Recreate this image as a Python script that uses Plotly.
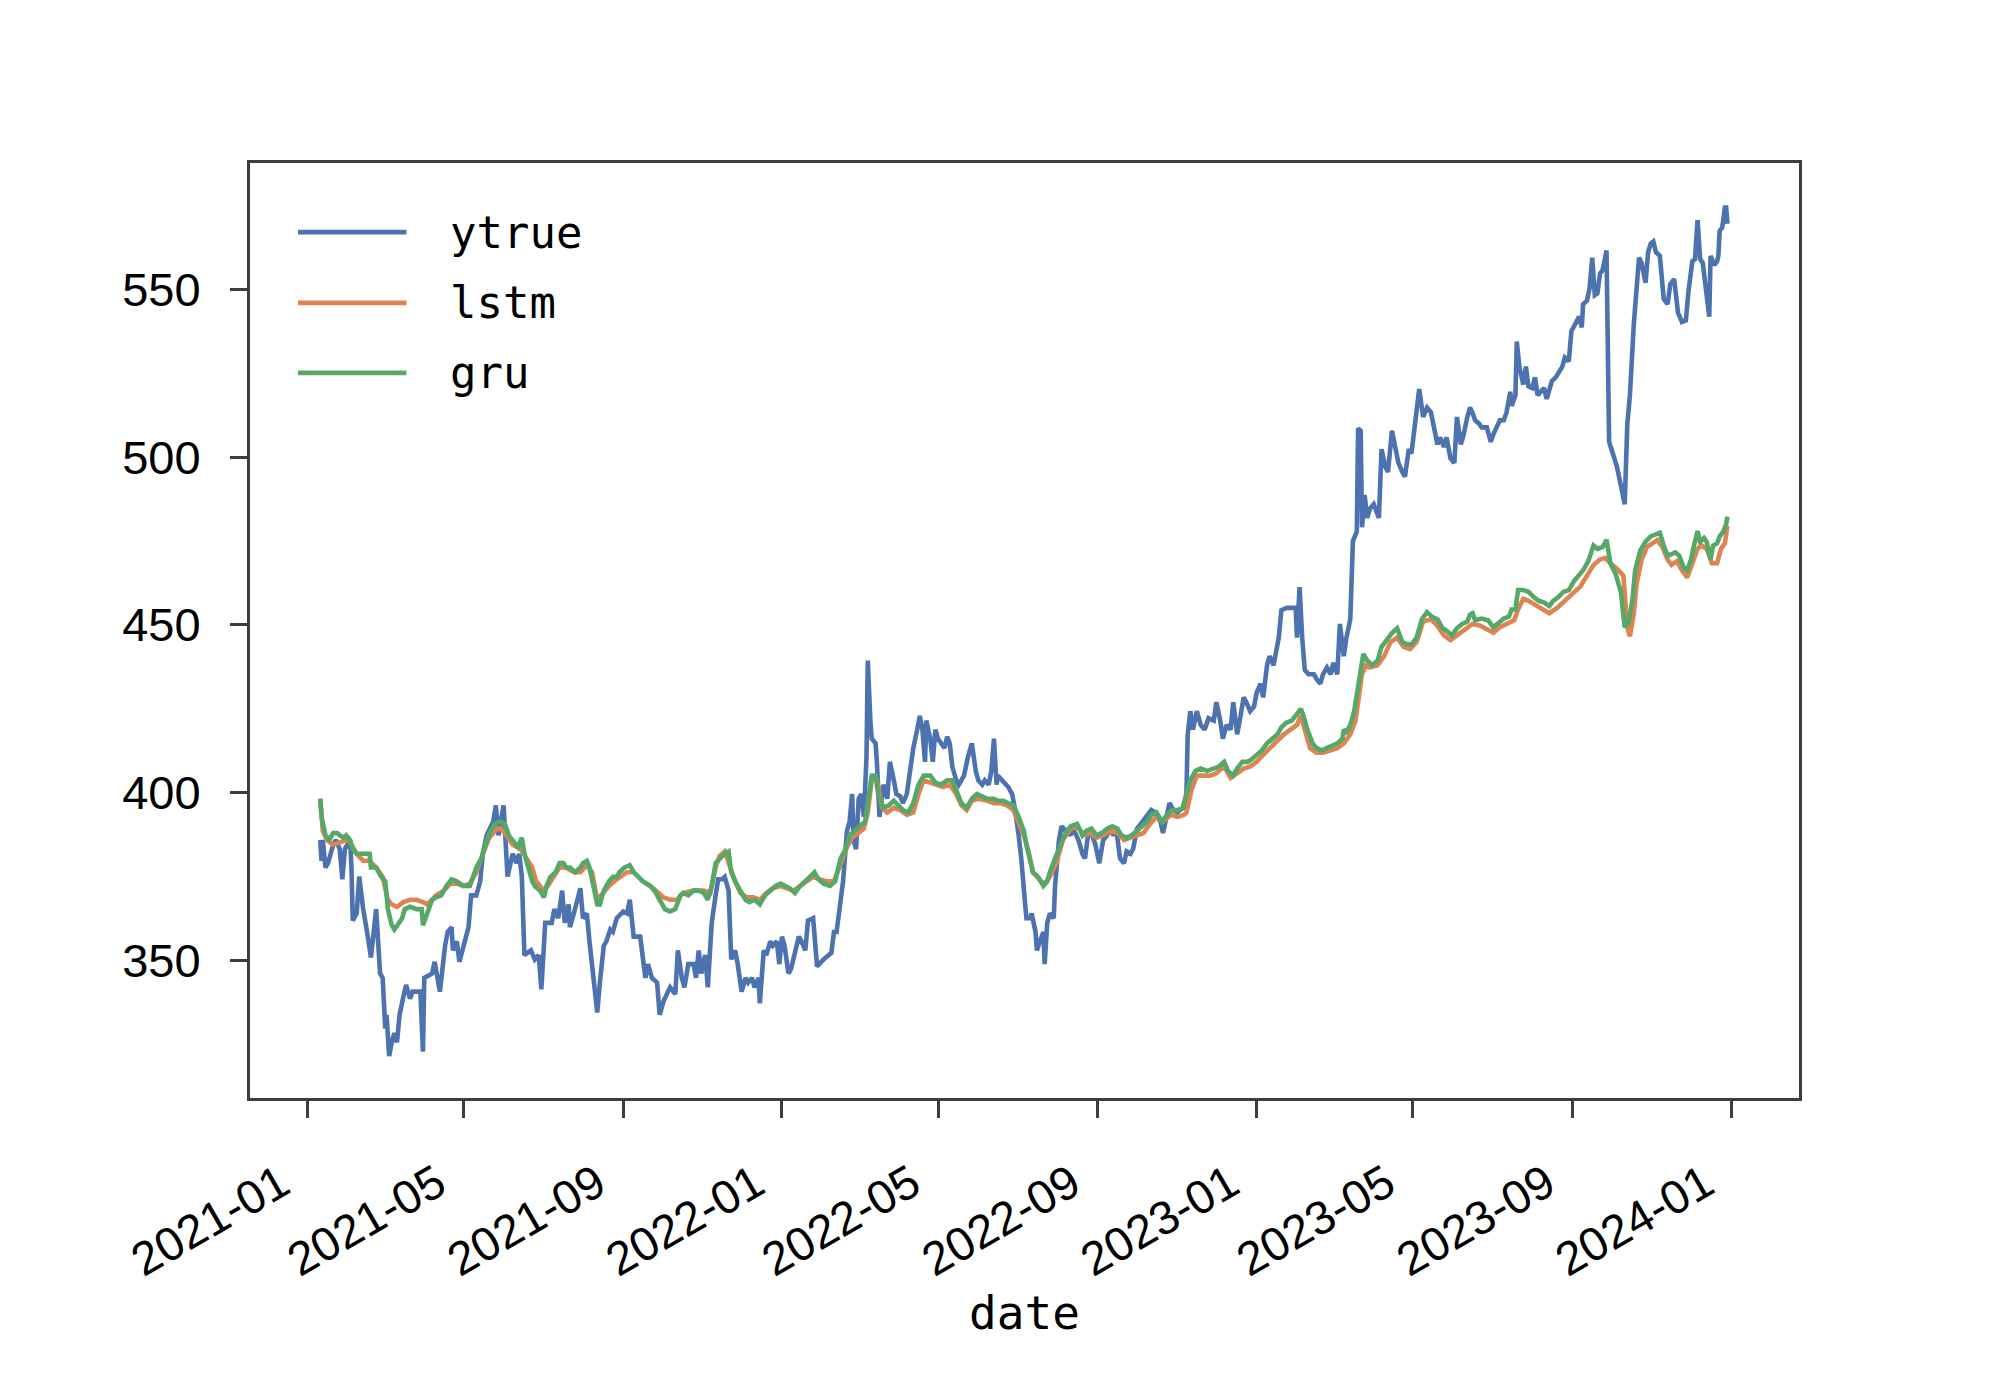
import pandas as pd
import plotly.graph_objects as go

# ---------------- data ----------------
BASE_DATE = "2021-01-01"          # day offsets below count from this date
series_names = ["ytrue", "lstm", "gru"]
series_colors = ["#4C72B0", "#DD8452", "#55A868"]
y_tick_values = [350, 400, 450, 500, 550]

ytrue_day = [10, 11, 12, 14, 16, 20, 22, 25, 27, 29, 33, 34, 35, 38, 40, 43, 46, 49, 53, 56, 58, 60, 61, 63, 65, 67, 69, 71, 74, 76, 79, 81, 87, 89, 90, 96, 98, 102, 106, 108, 111, 112, 115, 117, 124, 126, 130, 133, 135, 138, 143, 145, 147, 151, 154, 158, 161, 163, 165, 167, 172, 175, 178, 180, 183, 188, 190, 193, 196, 198, 201, 202, 205, 210, 212, 215, 217, 220, 223, 225, 228, 230, 233, 235, 238, 243, 246, 248, 251, 256, 258, 260, 262, 265, 269, 271, 274, 279,
             283, 285, 288, 290, 293, 297, 299, 301, 303, 306, 308, 311, 314, 316, 319, 321, 324, 326, 329, 331, 334, 337, 339, 342, 344, 347, 348, 351, 353, 356, 358, 361, 363, 365, 367, 370, 372, 375, 378, 380, 383, 385, 389, 392, 397, 403, 405, 407, 410, 412, 415, 417, 419, 420, 422, 424, 426, 428, 430, 431, 433, 434, 437, 438, 440, 443, 446, 448, 451, 453, 456, 458, 461, 464, 466, 469, 471, 473, 475, 476, 479, 481, 483, 485, 488, 490, 492, 494, 496, 499, 501, 505, 508, 511, 514, 516, 519, 521, 524, 526, 528, 530, 531, 534, 537, 539, 542, 544, 547, 549, 552, 553, 556, 557, 560, 561, 564, 566, 567, 569, 571, 574, 575, 578, 580, 584, 587,
             588, 590, 593, 596, 598, 601, 603, 606, 609, 612, 615, 617, 620, 622, 625, 628, 630, 633, 635, 638, 642, 646, 649, 652, 656, 658, 661, 663, 666, 669, 671, 674, 676, 677, 679, 681, 684, 687, 690, 693, 697, 699, 702, 704, 707, 710, 712, 715, 717, 720, 722, 725, 728, 730, 733, 735, 738, 740, 743, 747, 749, 753, 757, 760, 761, 763, 765, 767, 770, 774, 776, 779, 781, 784, 787, 789, 792, 794, 797, 799, 802, 803, 804, 807, 808, 810, 811, 813, 815, 817, 820, 824, 826, 829, 831, 834, 837, 839, 842, 844, 847, 849, 852, 855, 858, 861, 864, 866, 869, 871, 874, 876, 879, 882, 884, 887, 889, 892, 894,
             896, 898, 901, 903, 907, 910, 912, 915, 917, 920, 922, 925, 926, 929, 930, 932, 935, 937, 939, 942, 944, 946, 948, 951, 953, 955, 957, 960, 962, 965, 967, 970, 972, 975, 978, 980, 981, 984, 986, 988, 990, 992, 994, 996, 999, 1001, 1007, 1013, 1015, 1017, 1020, 1024, 1026, 1029, 1031, 1033, 1035, 1037, 1040, 1043, 1046, 1048, 1051, 1054, 1057, 1060, 1062, 1065, 1067, 1069, 1071, 1073, 1076, 1078, 1079, 1082, 1084, 1085, 1086, 1088, 1090, 1091, 1092]
ytrue_val = [385.9, 379.7, 385.9, 377.7, 379.0, 384.5, 385.9, 383.2, 374.2, 383.2, 385.9, 377.7, 361.9, 364.0, 375.0, 365.3, 358.5, 350.9, 365.3, 346.1, 344.8, 329.7, 333.8, 321.5, 325.6, 328.3, 325.6, 333.8, 339.3, 342.7, 338.6, 340.7, 340.7, 322.8, 344.8, 346.1, 349.6, 340.7, 354.4, 358.5, 359.9, 353.0, 355.7, 349.6, 359.9, 369.4, 369.4, 373.6, 381.8, 387.3, 391.4, 396.2, 387.3, 396.2, 375.0, 381.8, 379.0, 381.8, 375.0, 351.6, 353.0, 350.3, 351.6, 341.4, 361.2, 361.2, 365.3, 362.6, 370.8, 361.2, 366.7, 359.9, 364.0, 371.5, 362.6, 364.0, 355.7, 344.8, 334.5, 343.4, 354.4, 355.7, 359.2, 358.5, 362.6, 364.6, 364.0, 368.1, 357.1, 357.1, 351.6, 344.8, 348.9, 344.8, 343.4, 333.8, 337.9, 342.0,
             340.0, 353.0, 344.8, 342.0, 348.9, 348.9, 344.8, 353.0, 346.1, 351.6, 342.0, 361.2, 369.4, 374.2, 374.2, 374.9, 370.8, 350.3, 353.0, 348.9, 340.7, 344.8, 343.4, 344.8, 342.0, 344.8, 337.2, 353.0, 351.6, 355.7, 354.4, 355.7, 348.9, 357.1, 354.4, 346.1, 347.5, 353.0, 357.1, 355.7, 353.0, 361.9, 362.6, 348.2, 350.3, 352.3, 358.5, 358.5, 366.7, 373.6, 388.6, 391.4, 399.6, 385.9, 383.2, 398.2, 399.6, 392.8, 410.6, 439.4, 421.5, 416.1, 414.7, 409.2, 392.8, 402.4, 398.2, 409.2, 403.7, 399.6, 398.9, 396.9, 399.6, 407.8, 413.3, 418.8, 422.9, 418.8, 409.2, 421.5, 416.1, 409.2, 418.8, 416.1, 414.7, 413.3, 416.7, 414.7, 407.8, 403.7, 402.4, 405.1, 410.6, 414.7, 406.5, 403.7, 402.4, 403.7, 402.4, 406.5, 416.1, 402.4, 405.1, 403.7, 402.4, 401.7, 399.6, 395.5, 387.3, 380.4, 366.7, 362.6, 362.6, 364.0, 358.5, 353.0, 356.4, 358.5, 348.9, 361.2, 364.0, 362.6, 372.2, 385.9, 390.0, 388.6, 387.3,
             390.0, 388.6, 385.9, 381.8, 380.4, 389.3, 388.0, 384.5, 379.0, 385.9, 387.3, 389.3, 387.3, 389.3, 380.4, 379.0, 382.5, 381.8, 383.2, 389.3, 391.4, 393.4, 394.8, 394.1, 391.4, 388.0, 392.8, 396.9, 394.8, 394.1, 394.8, 395.5, 399.6, 417.4, 424.3, 418.8, 424.3, 420.2, 418.8, 422.2, 421.5, 427.0, 421.5, 416.1, 420.2, 418.8, 427.0, 417.4, 421.5, 428.4, 427.0, 424.3, 425.7, 429.8, 432.5, 428.4, 438.0, 440.7, 438.0, 446.2, 454.4, 455.1, 455.1, 455.1, 446.2, 461.3, 446.2, 436.6, 435.3, 435.3, 433.9, 432.5, 435.3, 437.3, 435.3, 438.7, 435.3, 450.3, 440.7, 446.2, 451.7, 464.0, 475.0, 477.8, 508.6, 507.9, 479.1, 488.7, 481.9, 484.6, 486.0, 481.9, 502.4, 497.0, 495.6, 507.9, 501.1, 498.3, 495.6, 494.2, 502.4, 501.1, 510.7, 520.3, 512.0, 514.8, 513.4, 509.3, 503.8, 505.9, 503.1, 505.9, 499.7, 498.3, 512.0, 503.8, 506.5, 512.0, 514.8,
             513.2, 511.0, 510.0, 508.9, 508.9, 504.6, 506.8, 508.9, 511.0, 511.0, 513.2, 519.5, 515.3, 518.5, 534.5, 527.0, 521.7, 527.0, 521.1, 520.6, 523.8, 518.5, 519.5, 520.6, 517.4, 520.6, 522.7, 523.8, 524.9, 527.0, 529.7, 528.6, 537.6, 539.8, 541.9, 538.7, 545.6, 546.7, 550.4, 559.5, 548.3, 548.8, 554.7, 555.8, 561.6, 504.6, 497.2, 486.0, 510.0, 518.5, 539.8, 559.5, 557.9, 552.0, 561.1, 563.7, 564.3, 561.1, 560.0, 547.2, 545.6, 551.5, 553.1, 543.0, 540.3, 540.8, 549.4, 558.4, 559.0, 570.7, 559.0, 557.9, 549.4, 541.9, 560.0, 557.3, 558.4, 560.0, 567.5, 568.5, 574.4, 574.4, 569.6]

lstm_day = [10, 12, 15, 20, 25, 30, 33, 38, 43, 48, 53, 58, 62, 65, 69, 74, 79, 84, 89, 92, 96, 99, 105, 110, 115, 120, 125, 130, 135, 140, 146, 149, 153, 158, 164, 169, 173, 176, 182, 185, 189, 194, 199, 205, 210, 215, 219, 223, 226, 232, 238, 246, 251, 258, 266, 274, 279,
            284, 289, 297, 305, 310, 314, 317, 321, 325, 329, 333, 338, 343, 348, 353, 358, 364, 369, 374, 379, 384, 389, 394, 399, 405, 410, 415, 419, 423, 428, 431, 434, 438, 442, 446, 451, 456, 461, 466, 470, 474, 479, 484, 489, 494, 499, 503, 507, 511, 516, 523, 528, 533, 538, 543, 547, 551, 555, 558, 564, 567, 571, 576, 581, 587,
            592, 597, 602, 607, 612, 617, 623, 628, 633, 638, 643, 648, 653, 658, 664, 669, 674, 676, 680, 684, 689, 694, 699, 705, 710, 715, 720, 725, 730, 735, 740, 746, 751, 756, 761, 764, 767, 771, 776, 781, 787, 792, 797, 802, 806, 808, 811, 814, 817, 823, 828, 833, 838, 843, 848, 853, 858, 864, 869, 874, 879, 884, 889, 894,
            896, 902, 907, 912, 917, 922, 928, 931, 935, 939, 943, 948, 955, 961, 967, 974, 979, 984, 989, 994, 998, 1002, 1007, 1012, 1015, 1017, 1020, 1022, 1026, 1030, 1034, 1038, 1042, 1046, 1049, 1053, 1057, 1061, 1065, 1069, 1072, 1076, 1080, 1084, 1087, 1090, 1092]
lstm_val = [398.2, 388.6, 385.9, 384.5, 385.2, 385.9, 385.2, 381.8, 379.7, 379.7, 377.7, 374.9, 368.1, 366.7, 366.0, 367.4, 368.1, 368.1, 367.4, 366.7, 368.1, 369.4, 370.8, 372.9, 372.9, 372.2, 372.9, 376.3, 381.8, 386.6, 389.3, 389.3, 387.3, 384.5, 383.2, 380.4, 377.7, 373.6, 370.8, 372.2, 374.9, 377.7, 377.7, 376.3, 376.3, 378.4, 376.3, 368.1, 369.4, 372.2, 374.2, 376.3, 376.3, 373.6, 371.5, 368.8, 368.1,
            368.1, 370.1, 370.8, 370.8, 370.1, 377.7, 381.1, 382.5, 377.7, 373.6, 370.1, 368.8, 368.8, 368.1, 370.1, 371.5, 372.2, 371.5, 370.8, 372.2, 373.6, 374.9, 374.2, 373.6, 373.6, 379.0, 383.8, 386.6, 387.9, 389.3, 394.1, 403.7, 403.7, 395.5, 394.1, 395.5, 394.8, 393.4, 394.1, 399.6, 403.7, 403.0, 402.4, 401.7, 402.4, 399.6, 396.2, 394.8, 397.6, 398.2, 397.6, 396.9, 396.9, 396.2, 394.8, 391.4, 387.3, 381.8, 376.3, 373.6, 372.9, 374.9, 379.0, 385.9, 389.3,
            390.0, 387.3, 388.0, 386.6, 387.3, 388.6, 388.0, 385.9, 386.6, 387.3, 388.0, 390.7, 392.8, 391.4, 393.4, 392.8, 393.4, 394.1, 401.0, 405.1, 405.1, 405.1, 405.8, 407.8, 404.4, 405.8, 407.2, 407.8, 409.2, 411.3, 413.3, 415.4, 417.4, 418.8, 420.2, 423.0, 418.8, 413.3, 411.9, 411.9, 412.6, 413.3, 414.7, 417.4, 421.5, 427.0, 435.3, 438.0, 437.3, 438.0, 440.7, 444.9, 446.2, 443.5, 442.8, 444.9, 451.0, 451.7, 449.7, 446.9, 445.5, 446.9, 448.3, 449.7,
            450.3, 449.8, 448.7, 447.7, 449.3, 450.3, 451.4, 454.6, 457.8, 457.2, 456.2, 455.1, 453.5, 455.1, 457.2, 459.4, 461.5, 464.7, 467.9, 469.5, 470.0, 468.4, 466.8, 464.7, 449.3, 446.6, 453.5, 462.0, 469.5, 473.2, 474.3, 475.3, 473.2, 469.5, 467.9, 469.0, 466.3, 464.2, 468.4, 472.7, 473.7, 472.7, 468.4, 468.4, 472.7, 474.3, 479.6]

gru_day = [10, 11, 14, 17, 20, 23, 25, 28, 30, 33, 35, 38, 41, 44, 48, 49, 53, 57, 60, 62, 65, 67, 70, 73, 75, 79, 84, 88, 89, 92, 96, 99, 103, 107, 111, 115, 120, 125, 130, 134, 137, 141, 144, 148, 152, 155, 158, 162, 165, 167, 170, 173, 175, 179, 182, 184, 187, 191, 194, 197, 199, 202, 206, 210, 212, 215, 217, 220, 223, 225, 228, 232, 235, 238, 240, 244, 248, 251, 255, 258, 264, 267, 271, 275, 279,
           283, 287, 289, 293, 297, 301, 305, 308, 311, 314, 317, 321, 324, 326, 329, 333, 337, 340, 344, 348, 352, 356, 360, 364, 367, 371, 375, 379, 383, 387, 390, 393, 397, 402, 406, 410, 414, 417, 421, 425, 429, 431, 434, 437, 439, 443, 447, 451, 455, 458, 462, 466, 470, 474, 479, 483, 487, 492, 496, 499, 503, 507, 511, 515, 519, 523, 528, 531, 535, 539, 543, 547, 551, 553, 556, 558, 562, 566, 569, 571, 575, 579, 583, 587,
           592, 596, 599, 603, 607, 611, 615, 619, 623, 626, 630, 634, 638, 642, 646, 649, 653, 657, 661, 665, 669, 673, 675, 679, 683, 687, 692, 697, 701, 705, 708, 712, 715, 719, 723, 726, 730, 734, 738, 742, 746, 749, 753, 757, 761, 764, 766, 769, 773, 776, 780, 784, 788, 792, 796, 797, 799, 802, 805, 807, 810, 812, 815, 819, 823, 826, 830, 834, 838, 842, 846, 849, 853, 857, 861, 865, 869, 873, 876, 880, 884, 888, 892, 894,
           896, 898, 903, 908, 912, 916, 920, 924, 926, 929, 931, 935, 939, 943, 947, 951, 955, 958, 962, 966, 970, 974, 978, 981, 985, 989, 992, 996, 999, 1002, 1006, 1010, 1013, 1016, 1019, 1021, 1025, 1029, 1033, 1037, 1040, 1043, 1046, 1049, 1052, 1055, 1058, 1061, 1064, 1066, 1069, 1071, 1074, 1076, 1079, 1081, 1084, 1086, 1089, 1091, 1092]
gru_val = [398.2, 392.8, 387.3, 385.9, 388.0, 388.0, 387.3, 386.6, 387.3, 385.9, 383.2, 381.8, 381.8, 381.8, 381.8, 377.7, 377.7, 374.9, 373.6, 365.3, 360.5, 359.2, 361.2, 362.6, 365.3, 366.0, 365.3, 365.3, 360.5, 364.0, 368.1, 368.8, 369.4, 372.2, 374.2, 373.6, 372.2, 372.2, 377.7, 380.4, 384.5, 388.6, 390.7, 391.4, 390.7, 387.3, 385.9, 383.8, 386.6, 381.8, 377.7, 373.6, 372.2, 370.8, 368.8, 372.2, 374.9, 376.3, 379.0, 379.0, 377.7, 377.7, 376.3, 377.7, 379.0, 379.7, 377.7, 372.2, 366.7, 366.7, 370.8, 373.6, 374.9, 374.9, 376.3, 377.7, 378.4, 376.3, 374.9, 373.6, 372.2, 370.8, 368.1, 365.3, 364.6,
           365.3, 369.4, 370.1, 369.4, 370.8, 370.8, 370.1, 368.1, 372.2, 379.0, 380.4, 381.8, 382.5, 376.3, 373.6, 370.8, 368.1, 367.4, 368.1, 366.7, 369.4, 370.8, 372.2, 372.9, 372.2, 371.5, 370.1, 372.2, 373.6, 374.9, 376.3, 374.2, 372.9, 372.2, 373.6, 380.4, 383.2, 387.3, 388.6, 390.0, 391.4, 396.9, 405.1, 405.1, 399.6, 395.5, 396.2, 397.6, 396.2, 394.8, 394.1, 396.9, 402.4, 405.1, 405.1, 403.0, 402.4, 403.7, 403.7, 401.0, 396.9, 395.5, 398.2, 399.6, 398.9, 398.2, 398.2, 397.6, 397.6, 396.9, 396.2, 392.8, 388.6, 384.5, 379.0, 376.3, 374.9, 372.2, 373.6, 376.3, 380.4, 384.5, 388.0, 390.0,
           390.7, 387.3, 388.6, 389.3, 387.3, 388.0, 389.3, 390.0, 389.3, 387.3, 386.6, 387.3, 388.6, 390.0, 391.4, 393.4, 394.1, 391.4, 393.4, 394.8, 394.8, 395.5, 398.2, 403.7, 406.5, 407.2, 406.5, 407.2, 407.8, 409.2, 406.5, 405.1, 407.2, 409.2, 409.2, 409.9, 411.3, 412.6, 414.7, 416.1, 417.4, 419.5, 420.9, 421.5, 423.6, 425.0, 422.9, 418.8, 414.7, 413.3, 412.6, 413.3, 414.0, 414.7, 416.1, 418.8, 418.1, 420.2, 424.3, 429.8, 438.0, 441.4, 439.4, 438.0, 439.4, 443.5, 445.5, 447.6, 449.0, 444.9, 444.2, 444.2, 446.2, 451.7, 453.8, 452.4, 451.7, 449.0, 448.3, 446.9, 449.0, 450.3, 451.0, 453.1,
           453.5, 451.4, 451.9, 451.4, 449.3, 450.8, 451.9, 452.5, 454.6, 454.6, 460.4, 460.4, 459.9, 458.3, 457.2, 456.7, 455.6, 457.2, 458.3, 459.9, 460.4, 463.1, 465.2, 466.3, 469.0, 473.7, 472.7, 473.2, 475.4, 468.4, 465.2, 459.9, 449.3, 450.8, 457.8, 466.3, 472.2, 474.8, 476.4, 476.9, 477.5, 473.7, 470.6, 471.1, 471.6, 470.6, 467.4, 466.3, 469.5, 473.2, 478.0, 474.8, 475.9, 474.8, 469.5, 473.7, 474.3, 476.4, 478.0, 480.1, 482.3]

x_range = ["2020-11-18", "2024-02-22"]
y_range = [309.0, 587.7]


def to_dates(days):
    return pd.Timestamp(BASE_DATE) + pd.to_timedelta(days, unit="D")


series_days = [ytrue_day, lstm_day, gru_day]
series_vals = [ytrue_val, lstm_val, gru_val]

fig = go.Figure()
for name, color, days, vals in zip(series_names, series_colors, series_days, series_vals):
    fig.add_trace(go.Scatter(x=to_dates(days), y=vals, mode="lines", name=name,
                             line=dict(color=color, width=4.6), showlegend=False))

# ---------------- custom legend (long line samples like the reference) ----------------
leg_rows_y = [0.926, 0.8505, 0.7755]
for name, color, yy in zip(series_names, series_colors, leg_rows_y):
    fig.add_shape(type="line", xref="paper", yref="paper", x0=0.031, x1=0.101, y0=yy, y1=yy,
                  line=dict(color=color, width=4.8))
    fig.add_annotation(xref="paper", yref="paper", x=0.128, y=yy, text=name, showarrow=False,
                       xanchor="left", yanchor="middle",
                       font=dict(family="DejaVu Sans Mono", size=44, color="black"))

axis_color = "#3d3d3d"
fig.update_layout(
    width=2000, height=1375,
    paper_bgcolor="white", plot_bgcolor="white",
    margin=dict(l=242, r=209, t=155, b=285),
    showlegend=False,
    xaxis=dict(
        type="date", range=x_range,
        tickmode="linear", tick0="2021-01-01", dtick="M4", tickformat="%Y-%m",
        tickangle=-30,
        showgrid=False, zeroline=False,
        showline=True, mirror=True, linecolor=axis_color, linewidth=3,
        ticks="outside", ticklen=17, tickwidth=3, tickcolor=axis_color,
        ticklabelshift=-26, ticklabelstandoff=20,
        tickfont=dict(family="Liberation Sans", size=47, color="black"),
        title=dict(text="date", standoff=10,
                   font=dict(family="DejaVu Sans Mono", size=46, color="black")),
    ),
    yaxis=dict(
        range=y_range, tickmode="array", tickvals=y_tick_values,
        showgrid=False, zeroline=False,
        showline=True, mirror=True, linecolor=axis_color, linewidth=3,
        ticks="outside", ticklen=17, tickwidth=3, tickcolor=axis_color,
        ticklabelstandoff=20,
        tickfont=dict(family="Liberation Sans", size=47, color="black"),
    ),
)

fig.write_html("out.html")
